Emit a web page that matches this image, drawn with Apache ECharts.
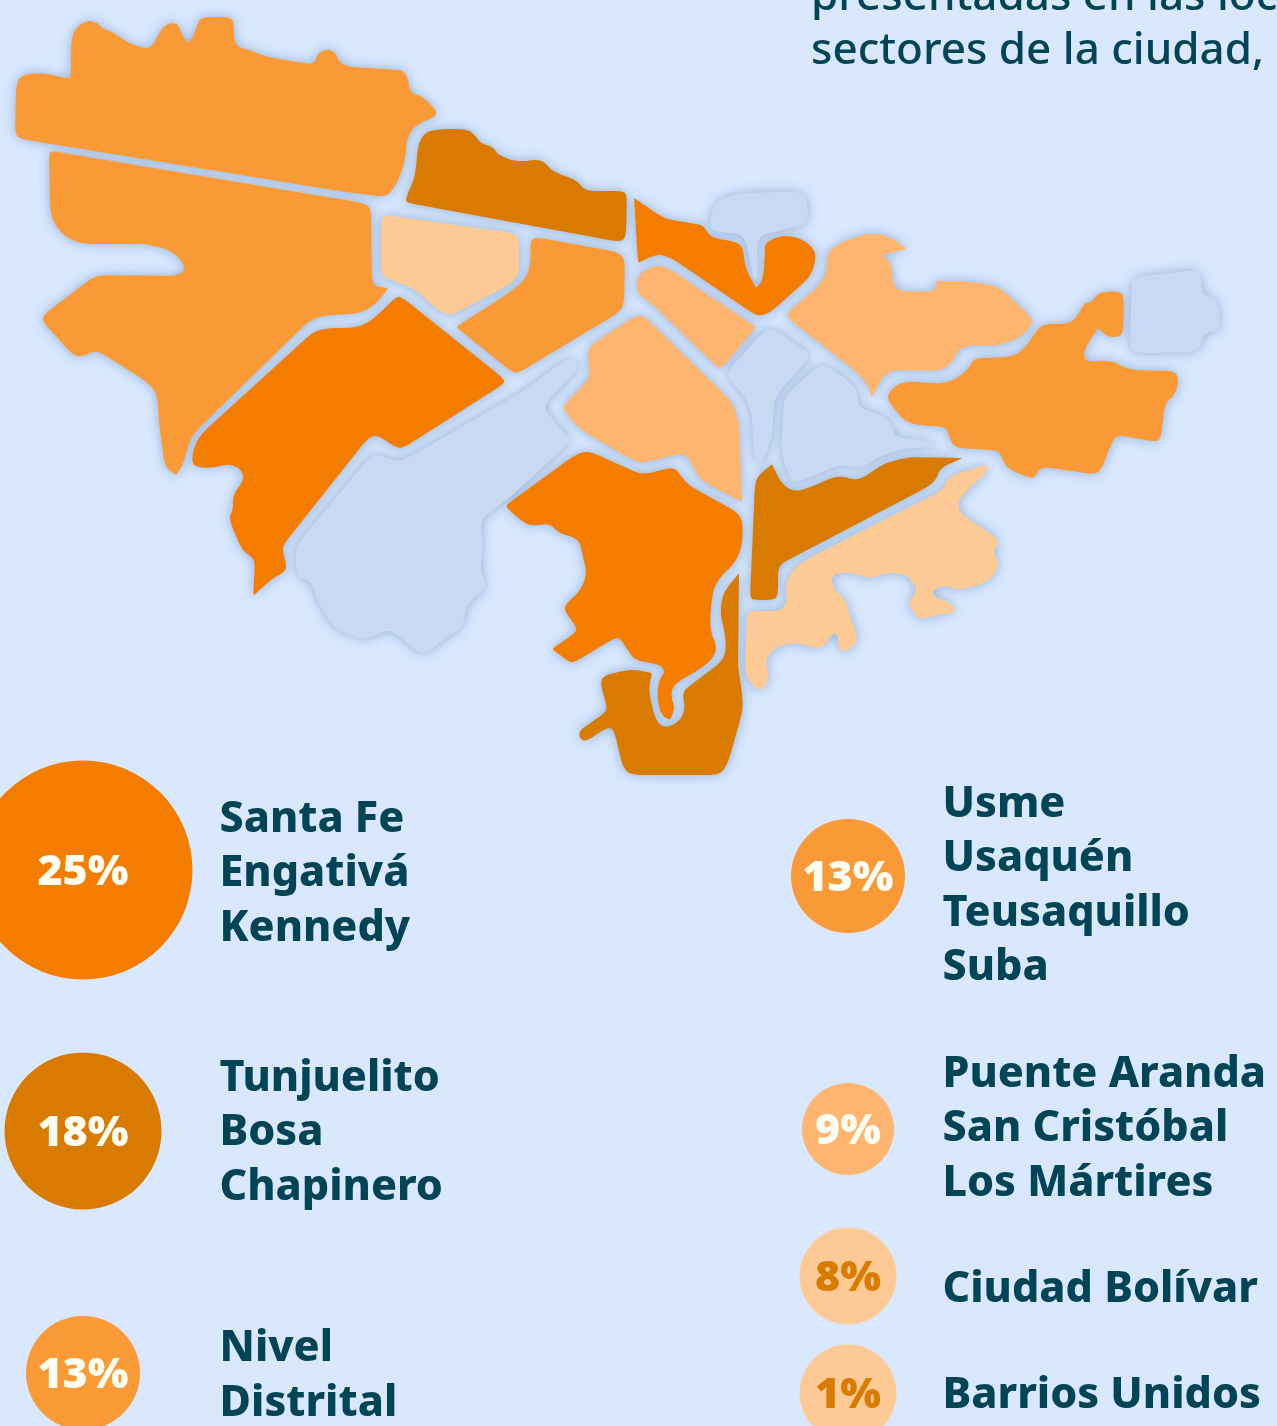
<!DOCTYPE html>
<html>
<head>
    <meta charset="UTF-8">
    <title>Bogotá por localidades</title>
    <script src="https://cdn.jsdelivr.net/npm/echarts@6/dist/echarts.min.js"></script>
    <style>
        html, body { margin: 0; padding: 0; background: #d9e8fe; overflow: hidden; }
    </style>
</head>
<body>
    <div id="main" style="width: 1277px;height:1426px;"></div>
    <script type="text/javascript">
        var introLines = ['presentadas en las localidades', 'sectores de la ciudad,'];
        var groupPercents = [25, 18, 13, 13, 9, 8, 1];
        var groupNames = [
            ['Santa Fe', 'Engativá', 'Kennedy'],
            ['Tunjuelito', 'Bosa', 'Chapinero'],
            ['Nivel', 'Distrital'],
            ['Usme', 'Usaquén', 'Teusaquillo', 'Suba'],
            ['Puente Aranda', 'San Cristóbal', 'Los Mártires'],
            ['Ciudad Bolívar'],
            ['Barrios Unidos']
        ];

        // legend layout, image pixels
        var bubbleX = [83, 83, 83, 848, 848, 848, 848];
        var bubbleY = [870, 1131, 1373, 876, 1129, 1276, 1393];
        var bubbleSize = [219, 157, 114, 114, 92, 97, 97];
        var textX = [219, 219, 219, 942, 942, 942, 942];
        var textY = [874, 1133, 1376, 886, 1129, 1290, 1396];

        var percentColor = { 25: '#f47d00', 18: '#d97b00', 13: '#fa9a37', 9: '#fdb56f', 8: '#fdc994', 1: '#fdc994' };
        var noDataColor = '#c9d9f1';
        var darkText = '#004455';

        // locality outlines, a repeated point is a sharp tip
        var outlines = {
            'Usaquén': [[15,133],[16,87],[20,76],[33,73],[50,74],[68,79],[71,75],[71,42],[75,28],[88,20],[98,23],[103,29],[115,33],[128,43],[147,49],[153,45],[163,26],[175,22],[180,28],[182,35],[188,43],[188,43],[193,37],[199,20],[203,17],[230,17],[234,22],[234,40],[238,47],[250,50],[267,57],[310,64],[315,62],[318,53],[328,49],[335,52],[340,63],[350,67],[402,70],[408,77],[410,93],[422,96],[438,112],[433,118],[417,124],[407,137],[406,153],[402,172],[392,192],[382,197],[333,190],[20,139]],
            'Suba': [[49,153],[53,151],[363,203],[371,208],[372,280],[375,286],[387,288],[388,289],[375,305],[358,314],[327,315],[310,320],[197,430],[190,440],[183,465],[176,475],[176,475],[165,467],[159,423],[157,393],[147,382],[100,352],[92,352],[80,357],[72,354],[43,322],[43,315],[63,300],[93,277],[103,275],[175,276],[185,271],[183,262],[170,250],[147,244],[83,244],[65,237],[53,222],[50,207]],
            'Engativá': [[397,296],[403,298],[503,378],[505,383],[405,447],[397,448],[388,442],[377,435],[368,438],[283,545],[283,553],[287,567],[283,573],[273,578],[253,596],[253,596],[255,563],[252,557],[242,550],[230,522],[230,515],[233,510],[233,495],[242,483],[244,475],[238,467],[227,464],[213,468],[197,467],[192,463],[193,450],[200,435],[313,332],[328,328],[353,328],[368,323],[383,310]],
            'Chapinero': [[405,200],[415,177],[418,145],[425,132],[440,129],[467,129],[475,135],[480,143],[493,147],[498,155],[517,162],[542,159],[553,172],[577,180],[585,191],[623,191],[627,195],[626,237],[620,242],[408,203]],
            'Barrios Unidos': [[381,220],[385,215],[513,233],[519,238],[519,273],[512,283],[458,312],[448,315],[438,310],[413,288],[397,282],[385,278],[381,272]],
            'Teusaquillo': [[530,242],[535,237],[618,252],[625,260],[624,305],[618,313],[520,372],[513,373],[456,327],[456,327],[513,290],[527,277],[531,260]],
            'Santa Fe': [[634,198],[634,198],[665,219],[703,225],[707,232],[713,238],[737,242],[743,248],[745,267],[756,288],[756,288],[763,280],[765,253],[765,242],[783,235],[800,238],[814,248],[816,260],[810,277],[771,312],[760,316],[752,313],[673,259],[660,254],[648,258],[638,263],[638,263]],
            'Los Mártires': [[637,280],[642,271],[658,265],[668,268],[756,327],[756,327],[722,368],[717,367],[653,305],[642,297],[637,292]],
            'Puente Aranda': [[587,348],[633,317],[642,315],[650,322],[710,380],[733,403],[739,423],[742,502],[742,502],[700,480],[690,460],[683,453],[644,463],[632,460],[581,430],[563,410],[566,403],[588,380],[590,372]],
            'Kennedy': [[506,505],[575,455],[586,451],[598,455],[642,475],[673,467],[679,473],[688,485],[737,512],[743,522],[742,547],[735,563],[720,577],[713,590],[710,617],[711,633],[717,647],[713,658],[703,667],[673,685],[671,697],[675,708],[670,720],[670,720],[661,715],[657,697],[659,680],[665,672],[661,665],[635,660],[629,652],[620,638],[615,638],[573,663],[568,661],[552,649],[552,649],[575,633],[577,628],[564,610],[566,604],[581,590],[587,573],[583,557],[580,542],[573,537],[559,533],[549,523],[534,526],[524,523],[507,508]],
            'Bosa': [[739,573],[739,573],[723,593],[720,613],[725,633],[726,653],[720,663],[684,690],[683,697],[685,708],[681,720],[667,728],[657,723],[651,703],[649,687],[652,673],[652,673],[632,669],[605,675],[600,682],[607,707],[605,713],[580,730],[579,737],[585,742],[608,727],[614,730],[623,768],[632,775],[720,775],[728,763],[743,710],[742,692],[738,667]],
            'Tunjuelito': [[772,464],[772,464],[781,483],[794,492],[811,487],[838,475],[858,481],[885,463],[909,457],[963,458],[963,458],[940,468],[936,480],[926,488],[784,562],[778,568],[778,595],[774,600],[753,600],[750,597],[755,483],[759,475]],
            'Ciudad Bolívar': [[987,464],[987,472],[960,497],[958,508],[963,515],[1000,540],[993,552],[1000,565],[990,580],[977,586],[956,590],[945,585],[932,590],[934,597],[951,603],[955,612],[955,612],[919,619],[919,619],[907,603],[918,590],[909,577],[899,573],[882,573],[872,579],[855,573],[835,573],[831,580],[835,590],[847,602],[850,617],[858,637],[853,647],[843,652],[838,647],[838,635],[833,633],[823,647],[814,648],[794,642],[774,648],[765,660],[769,675],[764,690],[755,688],[745,675],[747,613],[752,611],[781,611],[787,603],[786,583],[794,568],[811,557],[943,490],[948,477]],
            'San Cristóbal': [[784,315],[817,288],[827,273],[827,255],[833,247],[855,237],[872,233],[891,237],[907,249],[907,249],[882,255],[882,255],[891,262],[893,283],[898,291],[931,292],[936,287],[936,281],[936,281],[962,281],[993,285],[1005,292],[1032,318],[1032,325],[1020,338],[996,346],[969,345],[958,350],[953,362],[941,371],[893,370],[882,377],[872,398],[872,398],[869,387],[860,375]],
            'Usme': [[886,398],[893,387],[907,381],[941,384],[958,378],[969,368],[974,358],[1012,357],[1025,348],[1041,324],[1068,324],[1077,317],[1084,303],[1092,302],[1099,292],[1122,291],[1124,303],[1123,333],[1118,337],[1108,337],[1098,328],[1098,328],[1085,348],[1084,358],[1089,362],[1110,360],[1130,370],[1175,371],[1179,380],[1175,395],[1165,403],[1161,438],[1156,442],[1118,435],[1113,440],[1099,475],[1044,467],[1039,470],[1034,478],[1027,477],[1006,468],[1000,452],[993,450],[956,448],[950,440],[947,427],[917,425],[903,420]],
            'Sumapaz': [[1132,280],[1137,277],[1196,270],[1201,275],[1202,295],[1217,298],[1221,330],[1203,333],[1199,352],[1134,353],[1130,347]],
            'La Candelaria': [[710,217],[717,200],[741,193],[800,192],[807,198],[808,222],[803,225],[765,234],[757,240],[757,280],[754,278],[746,240],[738,233],[717,232],[710,227]],
            'Antonio Nariño': [[772,328],[812,355],[783,387],[774,400],[772,437],[765,457],[757,467],[753,443],[752,413],[745,397],[728,377],[729,370],[765,330]],
            'Rafael Uribe Uribe': [[822,363],[848,380],[858,393],[858,407],[886,417],[893,427],[895,437],[934,442],[938,447],[907,448],[882,455],[862,468],[838,465],[796,483],[790,478],[781,453],[784,400],[791,390]],
            'Fontibón': [[570,357],[577,363],[577,370],[542,407],[569,438],[569,443],[510,497],[480,520],[483,543],[480,570],[488,588],[467,603],[463,627],[443,640],[423,656],[400,637],[388,629],[363,641],[333,627],[317,600],[313,583],[297,577],[295,547],[373,453],[397,462],[410,457],[520,393]]
        };

        // round the corners a little, keeps long straight borders straight
        function roundOutline(points, passes) {
            var pts = points;
            for (var p = 0; p < passes; p++) {
                var next = [];
                for (var i = 0; i < pts.length; i++) {
                    var a = pts[i], b = pts[(i + 1) % pts.length];
                    var dx = b[0] - a[0], dy = b[1] - a[1];
                    var len = Math.sqrt(dx * dx + dy * dy);
                    if (len === 0) { next.push(a); continue; }
                    var t = Math.min(0.25, 5 / len);
                    next.push([a[0] + dx * t, a[1] + dy * t]);
                    next.push([b[0] - dx * t, b[1] - dy * t]);
                }
                pts = next;
            }
            return pts;
        }

        var features = Object.keys(outlines).map(function (name) {
            var ring = roundOutline(outlines[name], 2).map(function (pt) {
                return [pt[0], -pt[1]];
            });
            ring.push(ring[0]);
            return {
                type: 'Feature',
                properties: { name: name },
                geometry: { type: 'Polygon', coordinates: [ring] }
            };
        });
        echarts.registerMap('bogota', { type: 'FeatureCollection', features: features });

        // map values come from the legend groups, Nivel Distrital is not a place
        var mapData = [];
        groupNames.forEach(function (names, i) {
            if (names[0] === 'Nivel') return;
            names.forEach(function (name) {
                mapData.push({ name: name, value: groupPercents[i] });
            });
        });

        var pieces = Object.keys(percentColor).map(function (v) {
            return { value: Number(v), color: percentColor[v] };
        });

        var bubbleData = groupPercents.map(function (v, i) {
            return {
                value: [bubbleX[i], bubbleY[i], v],
                symbolSize: bubbleSize[i],
                itemStyle: { color: percentColor[v], opacity: 1 },
                label: { color: v < 9 ? '#d97b00' : '#fffdf2' }
            };
        });
        var nameData = groupNames.map(function (names, i) {
            return { value: [textX[i], textY[i]], label: { formatter: names.join('\n') } };
        });

        var mapBox = {
            left: 0, top: 0, width: 1277, height: 1426,
            aspectScale: 1,
            boundingCoords: [[0, 0], [1277, -1426]]
        };

        var myChart = echarts.init(document.getElementById('main'), null, { renderer: 'canvas' });
        myChart.setOption({
            animation: false,
            backgroundColor: '#d9e8fe',
            title: {
                text: introLines.join('\n'),
                left: 811,
                top: -30,
                padding: 0,
                textStyle: {
                    fontFamily: 'Noto Sans',
                    fontSize: 44,
                    fontWeight: 500,
                    lineHeight: 54,
                    color: darkText
                }
            },
            tooltip: { show: false },
            grid: { left: 0, right: 0, top: 0, bottom: 0 },
            xAxis: { type: 'value', min: 0, max: 1277, show: false },
            yAxis: { type: 'value', min: 0, max: 1426, inverse: true, show: false },
            // soft halo under the regions, the map series draws the clean fills on top
            geo: Object.assign({
                map: 'bogota',
                roam: false,
                silent: true,
                label: { show: false },
                itemStyle: {
                    areaColor: '#c3d6ec',
                    borderWidth: 0,
                    shadowColor: 'rgba(85,130,180,0.55)',
                    shadowBlur: 12
                }
            }, mapBox),
            visualMap: {
                type: 'piecewise',
                show: false,
                seriesIndex: 0,
                pieces: pieces
            },
            series: [
                Object.assign({
                    type: 'map',
                    map: 'bogota',
                    roam: false,
                    silent: true,
                    label: { show: false },
                    itemStyle: { areaColor: noDataColor, borderWidth: 0 },
                    emphasis: { disabled: true },
                    data: mapData
                }, mapBox),
                {
                    type: 'scatter',
                    silent: true,
                    clip: false,
                    label: {
                        show: true,
                        position: 'inside',
                        offset: [0, 3],
                        fontFamily: 'Noto Sans',
                        fontWeight: 900,
                        fontSize: 43,
                        formatter: function (p) { return p.value[2] + '%'; }
                    },
                    data: bubbleData
                },
                {
                    type: 'scatter',
                    silent: true,
                    symbolSize: 1,
                    itemStyle: { color: 'transparent', opacity: 1 },
                    label: {
                        show: true,
                        position: 'right',
                        distance: 0,
                        fontFamily: 'Noto Sans',
                        fontWeight: 800,
                        fontSize: 43,
                        lineHeight: 54.5,
                        color: darkText
                    },
                    data: nameData
                }
            ]
        });
    </script>
</body>
</html>
